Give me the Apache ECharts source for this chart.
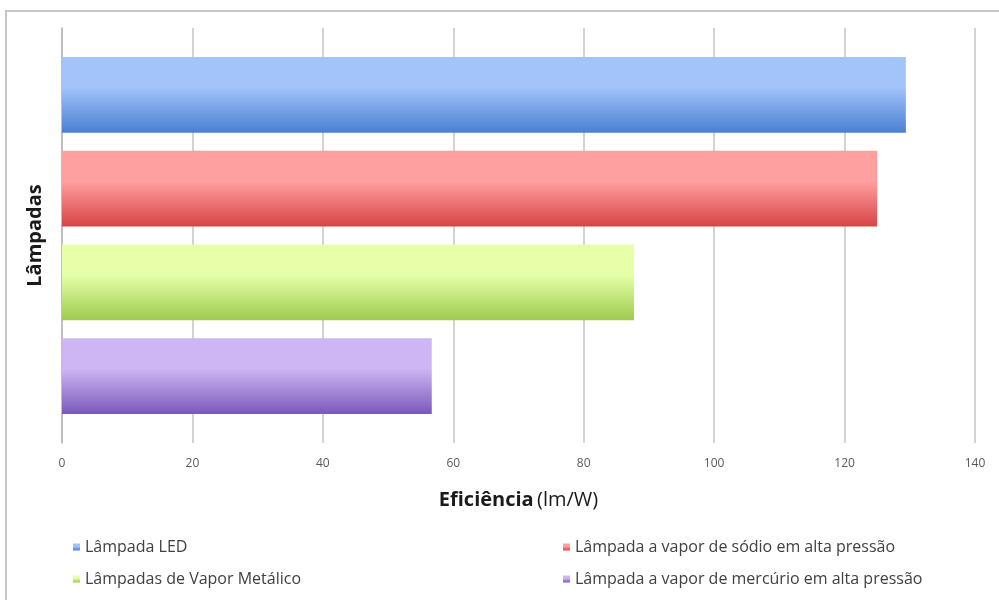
<html>
<head>
    <meta charset='UTF-8'>
    <script src='https://cdn.jsdelivr.net/npm/echarts@6/dist/echarts.min.js'></script>
    <style>
        html, body { margin: 0; padding: 0; background: #fff; }
        #frame {
            position: absolute; left: 5px; top: 10px; width: 994px; height: 590px;
            border-left: 2px solid #c8c8c8; border-top: 2px solid #c8c8c8;
            box-sizing: border-box;
        }
        #chart { position: absolute; left: 0; top: 0; width: 999px; height: 600px; }
    </style>
</head>
<body>
    <div id="frame"></div>
    <div id="chart"></div>
    <script>
        // data
        const categories = ['']
        const seriesNames = [
            'Lâmpada LED',
            'Lâmpada a vapor de sódio em alta pressão',
            'Lâmpadas de Vapor Metálico',
            'Lâmpada a vapor de mercúrio em alta pressão'
        ]
        const ledValues = [129.4]
        const sodioValues = [125]
        const metalicoValues = [87.7]
        const mercurioValues = [56.7]
        const xTicks = [0, 140, 20]

        const colors = [
            ['#a3c3fb', '#4a80d2'],
            ['#ffa0a0', '#d84444'],
            ['#e6ffa8', '#9ccb4e'],
            ['#cdb6f3', '#7a59b9']
        ]
        const FONT = 'Open Sans'

        function grad(c) {
            return new echarts.graphic.LinearGradient(0, 0, 0, 1, [
                { offset: 0, color: c[0] },
                { offset: 0.4, color: c[0] },
                { offset: 1, color: c[1] }
            ])
        }

        const allValues = [ledValues, sodioValues, metalicoValues, mercurioValues]
        const series = seriesNames.map((n, i) => ({
            name: n,
            type: 'bar',
            data: allValues[i],
            barGap: '24%',
            barCategoryGap: '14%',
            itemStyle: { color: grad(colors[i]) }
        }))

        const legendText = { fontFamily: FONT, fontSize: 16, color: '#404040' }
        const chart = echarts.init(document.getElementById('chart'))
        chart.setOption({
            animation: false,
            color: colors.map(c => c[1]),
            grid: { left: 62, right: 24, top: 28, bottom: 157 },
            xAxis: {
                type: 'value',
                min: xTicks[0], max: xTicks[1], interval: xTicks[2],
                axisLine: { show: false },
                axisTick: { show: false },
                splitLine: { lineStyle: { color: '#c4c4c4', width: 1.5 } },
                axisLabel: { fontFamily: FONT, fontSize: 12, color: '#595959', margin: 15 },
                name: '{b|Eficiência} {n|(lm/W)}',
                nameLocation: 'middle',
                nameGap: 47,
                nameTextStyle: {
                    rich: {
                        b: { fontFamily: FONT, fontSize: 20, fontWeight: 'bold', color: '#1a1a1a' },
                        n: { fontFamily: FONT, fontSize: 20, color: '#1a1a1a' }
                    }
                }
            },
            yAxis: {
                type: 'category',
                data: categories,
                inverse: true,
                axisLine: { lineStyle: { color: '#b8b8b8', width: 1.5 } },
                axisTick: { show: false },
                axisLabel: { show: false },
                name: 'Lâmpadas',
                nameLocation: 'middle',
                nameGap: 17,
                nameRotate: 90,
                nameTextStyle: { fontFamily: FONT, fontSize: 20, fontWeight: 'bold', color: '#1a1a1a' }
            },
            legend: [
                {
                    data: [seriesNames[0], seriesNames[2]],
                    orient: 'vertical', left: 68, top: 534,
                    itemWidth: 7, itemHeight: 7, itemGap: 16,
                    icon: 'rect', textStyle: legendText
                },
                {
                    data: [seriesNames[1], seriesNames[3]],
                    orient: 'vertical', left: 558, top: 534,
                    itemWidth: 7, itemHeight: 7, itemGap: 16,
                    icon: 'rect', textStyle: legendText
                }
            ],
            series: series
        })
    </script>
</body>
</html>
